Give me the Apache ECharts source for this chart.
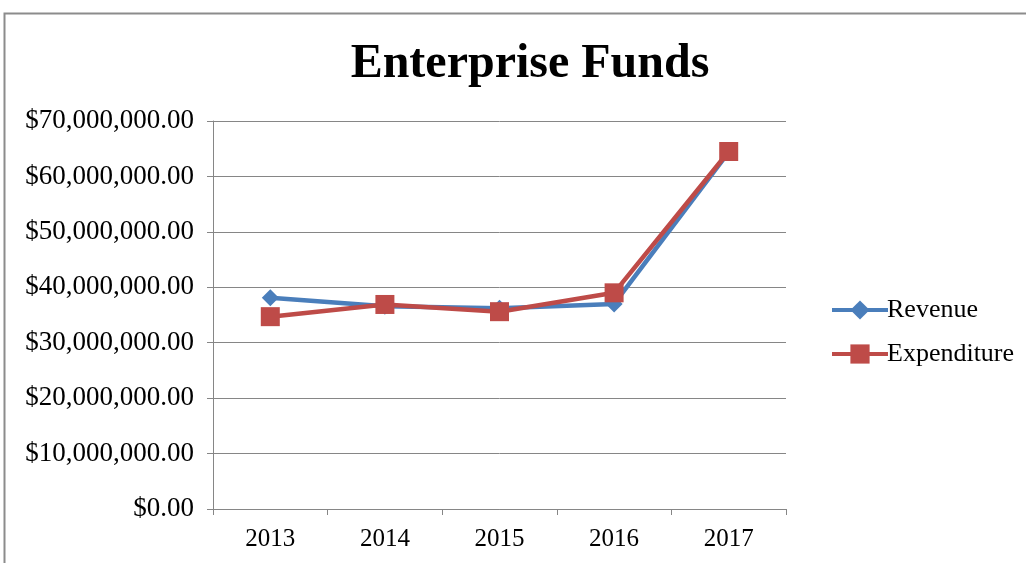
<!DOCTYPE html>
<html><head><meta charset="utf-8">
<script src="https://cdn.jsdelivr.net/npm/echarts@6/dist/echarts.min.js"></script>
<style>html,body{margin:0;padding:0;background:#fff}#c{width:1026px;height:563px}</style>
</head><body><div id="c"></div>
<script>
const categories = ['2013','2014','2015','2016','2017'];
const revenue = [38100000, 36600000, 36200000, 37000000, 64400000];
const expenditure = [34700000, 36900000, 35600000, 39000000, 64500000];
const yTicks = {min: 0, max: 70000000, interval: 10000000};

const font = '"Liberation Serif", "Times New Roman", serif';
const chart = echarts.init(document.getElementById('c'));
function fmt(v){
  return '$' + v.toLocaleString('en-US', {minimumFractionDigits:2, maximumFractionDigits:2});
}
chart.setOption({
  animation: false,
  backgroundColor: '#fff',
  graphic: [{
    type: 'rect', shape: {x: 4.5, y: 13.5, width: 1200, height: 700},
    style: {fill: 'none', stroke: '#8c8c8c', lineWidth: 2}, silent: true
  }],
  title: {
    text: 'Enterprise Funds', left: 525, textAlign: 'center', top: 36,
    textStyle: {fontFamily: font, fontSize: 48, fontWeight: 'bold', color: '#000'}
  },
  legend: {
    orient: 'vertical', left: 825, top: 292, itemGap: 18,
    itemWidth: 56, itemHeight: 24,
    lineStyle: {width: 4},
    textStyle: {fontFamily: font, fontSize: 26, color: '#000', padding: [0,0,0,-6]},
    data: ['Revenue', 'Expenditure']
  },
  grid: {left: 213, right: 240, top: 121, bottom: 54, containLabel: false},
  xAxis: {
    type: 'category', data: categories, boundaryGap: true,
    axisLine: {lineStyle: {color: '#868686', width: 1}},
    axisTick: {show: true, alignWithLabel: false, length: 6, lineStyle: {color: '#868686'}},
    axisLabel: {fontFamily: font, fontSize: 25, color: '#000', margin: 18}
  },
  yAxis: {
    type: 'value', min: yTicks.min, max: yTicks.max, interval: yTicks.interval,
    axisLine: {show: true, lineStyle: {color: '#868686'}},
    axisTick: {show: true, length: 6, lineStyle: {color: '#868686'}},
    splitLine: {lineStyle: {color: '#868686', width: 1}},
    axisLabel: {fontFamily: font, fontSize: 27, color: '#000', margin: 19, formatter: fmt}
  },
  series: [
    {name: 'Revenue', type: 'line', data: revenue, symbol: 'diamond', symbolSize: 17,
     lineStyle: {color: '#4a7ebb', width: 4.5}, itemStyle: {color: '#4a7ebb'}},
    {name: 'Expenditure', type: 'line', data: expenditure, symbol: 'rect', symbolSize: 19,
     lineStyle: {color: '#be4b48', width: 4.5}, itemStyle: {color: '#be4b48'}}
  ]
});
</script></body></html>
